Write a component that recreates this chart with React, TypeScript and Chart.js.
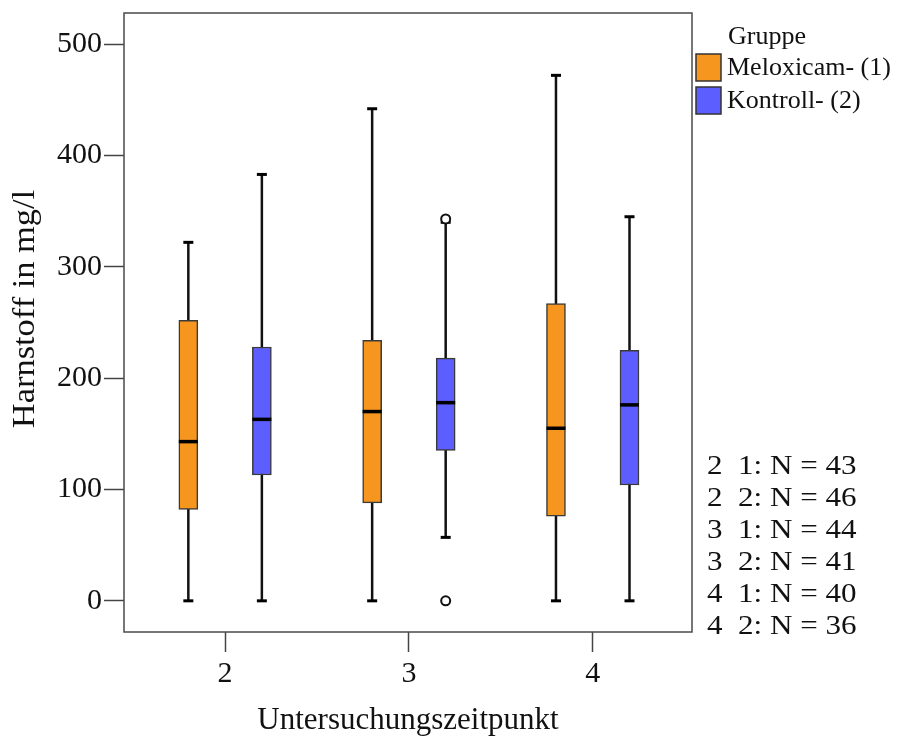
import React, { useEffect, useRef } from 'react';
import { Chart, registerables } from 'chart.js';

Chart.register(...registerables);

// ---- data ----
const timepoints = [2, 3, 4];
const groupLabels = ['Meloxicam- (1)', 'Kontroll- (2)'];
const groupCodes = [1, 2];
const groupColors = ['#F7961E', '#5C5EFF'];
const groupOffsets = [-0.2, 0.2];

// Meloxicam- (1)
const melMin = [0, 0, 0];
const melQ1 = [82, 88, 76];
const melMedian = [143, 170, 155];
const melQ3 = [252, 234, 267];
const melMax = [322, 442, 472];
const melOutliers: number[][] = [[], [], []];

// Kontroll- (2)
const konMin = [0, 57, 0];
const konQ1 = [113, 135, 104];
const konMedian = [163, 178, 176];
const konQ3 = [228, 218, 225];
const konMax = [383, 340, 345];
const konOutliers: number[][] = [[], [0, 343], []];

// N per timepoint x group
const nCounts = [
  [43, 46],
  [44, 41],
  [40, 36],
];

const yTicks = [0, 100, 200, 300, 400, 500];
const yMin = -28;
const yMax = 528;
const xMin = 1.45;
const xMax = 4.54;
const xTitle = 'Untersuchungszeitpunkt';
const yTitle = 'Harnstoff in mg/l';
const legendTitle = 'Gruppe';

const groups = [
  { min: melMin, q1: melQ1, med: melMedian, q3: melQ3, max: melMax, out: melOutliers },
  { min: konMin, q1: konQ1, med: konMedian, q3: konQ3, max: konMax, out: konOutliers },
];

const FONT = "'Liberation Serif', 'Times New Roman', serif";

const overlayPlugin = {
  id: 'overlay',
  afterDraw(chart: any) {
    const { ctx, chartArea } = chart;
    ctx.save();
    // frame
    ctx.strokeStyle = '#4a4a4a';
    ctx.lineWidth = 1.5;
    ctx.strokeRect(chartArea.left, chartArea.top, chartArea.right - chartArea.left, chartArea.bottom - chartArea.top);

    // y axis title
    ctx.save();
    ctx.translate(26, 309);
    ctx.rotate(-Math.PI / 2);
    ctx.scale(1.11, 1);
    ctx.font = `31px ${FONT}`;
    ctx.fillStyle = '#111';
    ctx.textAlign = 'center';
    ctx.textBaseline = 'middle';
    ctx.fillText(yTitle, 0, 0);
    ctx.restore();

    // legend
    ctx.fillStyle = '#111';
    ctx.textBaseline = 'middle';
    ctx.textAlign = 'left';
    ctx.font = `26px ${FONT}`;
    ctx.fillText(legendTitle, 728, 37);
    groupLabels.forEach((lab, i) => {
      const by = 54 + i * 33;
      ctx.fillStyle = groupColors[i];
      ctx.fillRect(696, by, 25, 27);
      ctx.strokeStyle = '#333';
      ctx.lineWidth = 1.5;
      ctx.strokeRect(696, by, 25, 27);
      ctx.fillStyle = '#111';
      ctx.fillText(lab, 727, by + 14);
    });

    // N annotations
    ctx.font = `27px ${FONT}`;
    let line = 0;
    timepoints.forEach((t, ti) => {
      groupCodes.forEach((g, gi) => {
        ctx.save();
        ctx.translate(707, 467 + line * 32);
        ctx.scale(1.15, 1);
        ctx.fillText(`${t}  ${g}: N = ${nCounts[ti][gi]}`, 0, 0);
        ctx.restore();
        line++;
      });
    });
    ctx.restore();
  },
};

export default function App() {
  const ref = useRef<HTMLCanvasElement | null>(null);

  useEffect(() => {
    if (!ref.current) return;
    const datasets: any[] = [];
    groups.forEach((gr, gi) => {
      const off = groupOffsets[gi];
      // whiskers
      datasets.push({
        type: 'bar',
        label: 'whisker' + gi,
        data: timepoints.map((t, i) => ({ x: t + off, y: [gr.min[i], gr.max[i]] })),
        backgroundColor: '#111',
        borderWidth: 0,
        maxBarThickness: 2.5,
        grouped: false,
        order: 5,
      });
      // boxes
      datasets.push({
        type: 'bar',
        label: groupLabels[gi],
        data: timepoints.map((t, i) => ({ x: t + off, y: [gr.q1[i], gr.q3[i]] })),
        backgroundColor: groupColors[gi],
        borderColor: '#3a3a3a',
        borderWidth: 1.5,
        borderSkipped: false,
        barThickness: 19,
        maxBarThickness: 19,
        grouped: false,
        order: 4,
      });
      // medians
      datasets.push({
        type: 'scatter',
        label: 'median' + gi,
        data: timepoints.map((t, i) => ({ x: t + off, y: gr.med[i] })),
        pointStyle: 'line',
        pointRadius: 9.5,
        pointBorderWidth: 3.5,
        pointBorderColor: '#000',
        order: 2,
      });
      // caps
      datasets.push({
        type: 'scatter',
        label: 'caps' + gi,
        data: timepoints.flatMap((t, i) => [
          { x: t + off, y: gr.min[i] },
          { x: t + off, y: gr.max[i] },
        ]),
        pointStyle: 'line',
        pointRadius: 5,
        pointBorderWidth: 3,
        pointBorderColor: '#000',
        order: 2,
      });
      // outliers
      datasets.push({
        type: 'scatter',
        label: 'out' + gi,
        data: timepoints.flatMap((t, i) => gr.out[i].map((v) => ({ x: t + off, y: v }))),
        pointStyle: 'circle',
        pointRadius: 4.5,
        pointBorderWidth: 2,
        pointBorderColor: '#111',
        pointBackgroundColor: '#fff',
        order: 1,
      });
    });

    const chart = new Chart(ref.current, {
      type: 'bar',
      data: { datasets },
      options: {
        animation: false,
        responsive: false,
        devicePixelRatio: 1,
        events: [],
        layout: { padding: { top: 12, right: 207, left: 0, bottom: 0 } },
        plugins: {
          legend: { display: false },
          tooltip: { enabled: false },
          title: { display: false },
        },
        scales: {
          x: {
            type: 'linear',
            min: xMin,
            max: xMax,
            offset: false,
            afterBuildTicks: (scale: any) => {
              scale.ticks = timepoints.map((v) => ({ value: v }));
            },
            afterFit: (scale: any) => {
              scale.height = 105;
              scale.paddingLeft = 0;
              scale.paddingRight = 0;
            },
            grid: {
              display: true,
              drawOnChartArea: false,
              drawTicks: true,
              offset: false,
              tickLength: 20,
              tickColor: '#444',
              tickWidth: 1.5,
            },
            border: { display: false },
            ticks: {
              color: '#111',
              padding: 4,
              font: { family: FONT, size: 30 },
              callback: (v: any) => String(v),
              maxRotation: 0,
              autoSkip: false,
            },
            title: {
              display: true,
              text: xTitle,
              color: '#111',
              font: { family: FONT, size: 31, lineHeight: 1 },
              padding: { top: 0, bottom: 1 },
            },
          },
          y: {
            type: 'linear',
            min: yMin,
            max: yMax,
            beginAtZero: false,
            afterBuildTicks: (scale: any) => {
              scale.ticks = yTicks.map((v) => ({ value: v }));
            },
            afterFit: (scale: any) => {
              scale.width = 124;
              scale.paddingTop = 0;
              scale.paddingBottom = 0;
            },
            grid: {
              display: true,
              drawOnChartArea: false,
              drawTicks: true,
              tickLength: 20,
              tickColor: '#444',
              tickWidth: 1.5,
            },
            border: { display: false },
            ticks: {
              color: '#111',
              padding: 2,
              font: { family: FONT, size: 30 },
              callback: (v: any) => String(v),
            },
            title: { display: false },
          },
        },
      },
      plugins: [overlayPlugin],
    } as any);

    return () => chart.destroy();
  }, []);

  return (
    <div style={{ position: 'absolute', left: 0, top: 0, width: 899, height: 737, background: '#fff' }}>
      <canvas ref={ref} width={899} height={737} style={{ width: 899, height: 737, display: 'block' }} />
    </div>
  );
}
